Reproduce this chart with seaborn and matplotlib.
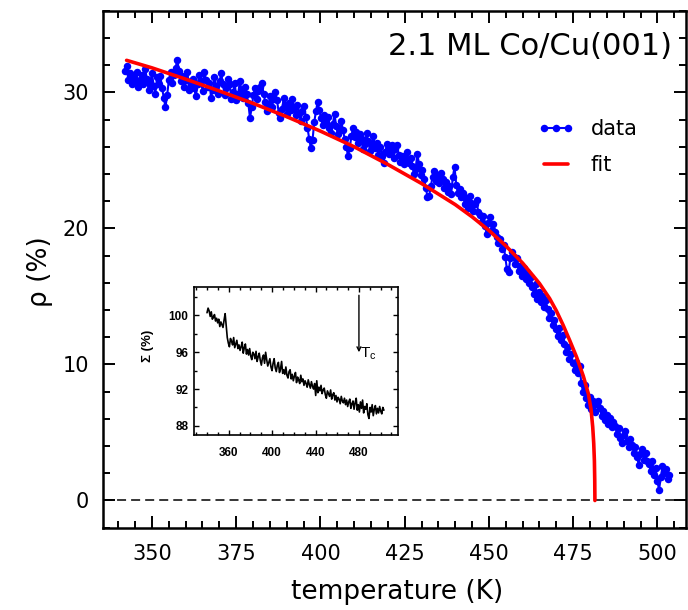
import numpy as np
import pandas as pd
import matplotlib
matplotlib.use("Agg")
import matplotlib.pyplot as plt
import seaborn as sns
from matplotlib.ticker import MultipleLocator

# ---------------- data ----------------
temp_start, temp_end = 342.0, 503.5          # temperature range of the scan (K)
rho_data = [
    31.6, 31.9, 30.9, 31.4, 30.6, 31.2, 30.8, 31.5, 30.4, 30.9,
    31.3, 30.6, 31.7, 31.0, 30.2, 30.7, 31.4, 30.5, 29.9, 31.1,
    30.6, 31.2, 30.3, 29.6, 28.9, 29.8, 30.9, 31.5, 30.7, 31.3,
    31.8, 32.4, 31.6, 30.8, 31.2, 30.4, 30.9, 31.5, 30.2, 30.7,
    31.0, 30.3, 29.7, 30.6, 31.3, 30.8, 30.1, 31.5, 30.9, 30.4,
    30.7, 29.6, 30.2, 31.1, 30.5, 29.9, 30.8, 31.4, 30.6, 29.8,
    30.3, 31.0, 30.6, 29.5, 30.0, 30.7, 29.4, 29.9, 30.8, 30.2,
    29.6, 30.4, 29.9, 29.2, 28.1, 28.9, 29.8, 30.3, 29.5, 30.1,
    30.4, 30.7, 29.9, 29.3, 28.6, 29.1, 29.7, 28.9, 29.5, 30.0,
    29.4, 28.5, 28.1, 28.8, 29.6, 29.1, 28.4, 29.2, 28.7, 29.5,
    28.9, 28.3, 29.1, 28.5, 27.9, 28.6, 29.0, 28.2, 27.4, 26.6,
    25.9, 26.5, 27.8, 28.6, 29.3, 28.7, 28.1, 27.6, 28.3, 27.8,
    28.2, 27.4, 27.0, 27.7, 28.4, 27.5, 26.9, 27.3, 27.9, 27.2,
    26.6, 26.0, 25.3, 25.9, 26.8, 27.4, 26.7, 27.1, 26.3, 26.9,
    26.6, 25.8, 26.2, 27.0, 26.4, 25.7, 26.1, 26.8, 25.9, 26.3,
    25.4, 26.0, 25.3, 24.8, 25.6, 26.2, 25.5, 25.9, 26.1, 25.2,
    25.8, 26.1, 25.4, 24.9, 25.3, 24.7, 25.0, 25.6, 24.8, 25.2,
    24.6, 24.0, 24.4, 25.5, 24.7, 23.9, 24.3, 23.6, 23.0, 22.3,
    22.4, 23.1, 23.8, 24.2, 23.5, 23.9, 23.3, 24.1, 23.6, 23.0,
    23.4, 22.7, 23.1, 22.5, 23.8, 24.5, 23.2, 22.6, 22.9, 22.3,
    22.6, 21.8, 22.2, 21.5, 22.4, 21.9, 21.3, 21.8, 22.1, 21.2,
    21.0, 20.5, 20.9, 20.2, 19.6, 20.4, 20.8, 19.9, 20.3, 19.7,
    19.4, 18.9, 19.2, 18.5, 18.8, 17.9, 17.0, 16.8, 17.8, 18.3,
    17.9, 17.4, 17.8, 16.9, 17.2, 16.5, 17.1, 16.3, 16.8, 16.0,
    16.4, 15.7, 15.2, 15.9, 14.8, 15.3, 14.6, 15.0, 14.2, 14.7,
    14.1, 13.4, 13.8, 12.9, 13.3, 12.6, 12.1, 12.7, 11.8, 12.2,
    11.5, 10.9, 11.3, 10.4, 10.8, 10.1, 9.6, 10.2, 9.4, 9.9,
    8.6, 8.0, 8.5, 7.5, 7.0, 7.6, 6.7, 7.3, 6.5, 7.1,
    7.3, 6.8, 6.2, 6.6, 5.9, 6.3, 5.6, 6.1, 5.4, 5.8,
    5.5, 4.9, 5.3, 4.6, 4.2, 4.8, 5.1, 4.4, 3.9, 4.5,
    4.1, 3.5, 3.9, 3.2, 2.6, 3.4, 3.8, 3.0, 3.5, 2.9,
    2.7, 2.2, 2.9, 1.9, 2.4, 1.4, 0.8, 1.7, 2.5, 2.0,
    2.3, 1.6, 1.9,
]

fit_T = [342.5, 350, 360, 370, 380, 390, 400, 410, 420, 430, 440, 445, 450,
         455, 460, 465, 468, 470, 472, 474, 476, 478, 479.5, 480.3, 480.8,
         481.1, 481.3, 481.4, 481.45]
fit_rho = [32.35, 31.80, 30.97, 30.10, 29.19, 28.21, 27.15, 26.00, 24.70,
           23.30, 21.75, 20.85, 19.85, 18.72, 17.45, 15.95, 14.85, 13.95,
           12.90, 11.75, 10.55, 9.15, 7.85, 6.70, 5.40, 4.20, 2.90, 1.50, 0.0]

inset_T_start, inset_T_end = 340.0, 503.0
sigma_data = [
    100.3, 100.8, 100.5, 99.9, 100.4, 99.6, 99.8, 100.1, 99.4, 99.7,
    99.2, 99.6, 98.8, 99.3, 99.0, 98.7, 99.5, 100.2, 98.9, 97.6,
    97.0, 96.6, 97.5, 97.2, 96.8, 97.6, 96.5, 96.9, 97.3, 96.4,
    96.8, 96.2, 96.6, 97.1, 95.9, 96.5, 96.9, 95.8, 96.3, 95.7,
    96.4, 95.6, 95.2, 96.0, 95.8, 95.3, 96.1, 95.0, 95.5, 95.9,
    95.1, 94.6, 95.4, 95.7, 94.8, 96.0, 95.2, 94.5, 94.9, 95.3,
    94.4, 94.0, 94.8, 95.3, 94.3, 93.9, 94.6, 94.9, 93.8, 94.2,
    95.0, 93.7, 94.1, 93.6, 94.4, 93.5, 93.2, 93.9, 94.1, 93.1,
    93.6, 92.9, 93.4, 93.8, 92.7, 93.3, 93.0, 92.6, 93.5, 92.8,
    93.1, 92.4, 92.9, 92.6, 92.2, 93.0, 92.5, 92.1, 92.8, 92.3,
    92.0, 92.6, 91.3, 92.9, 91.6, 92.2, 91.8, 92.4, 91.5, 91.9,
    92.1, 91.4, 91.0, 91.8, 91.5, 91.2, 91.9, 90.9, 91.4, 91.6,
    90.8, 91.3, 90.6, 91.1, 90.9, 90.4, 91.2, 90.7, 90.5, 91.0,
    90.3, 90.8, 90.1, 90.6, 90.9, 89.9, 90.4, 90.7, 89.8, 90.5,
    91.0, 89.7, 90.3, 89.5, 90.6, 89.9, 90.8, 89.4, 90.1, 89.8,
    90.4, 89.2, 88.8, 90.0, 89.5, 90.3, 89.1, 89.8, 90.2, 89.3,
    89.9, 89.4, 90.1, 89.6, 89.3, 90.0, 89.7,
]

x_ticks = [350, 375, 400, 425, 450, 475, 500]
y_ticks = [0, 10, 20, 30]
inset_x_ticks = [360, 400, 440, 480]
inset_y_ticks = [88, 92, 96, 100]
Tc = 480
title_text = "2.1 ML Co/Cu(001)"

# ---------------- styling ----------------
sns.set_theme(style="ticks")
plt.rcParams["font.family"] = ["DejaVu Sans"]
plt.rcParams["axes.linewidth"] = 1.8
for key in ["text.color", "axes.labelcolor", "xtick.color", "ytick.color",
            "axes.edgecolor"]:
    plt.rcParams[key] = "black"

fig = plt.figure(figsize=(6.88, 6.10), dpi=100)
ax = fig.add_axes([0.1497, 0.1349, 0.848, 0.8476])

T = np.linspace(temp_start, temp_end, len(rho_data))
df = pd.DataFrame({"T": T, "rho": rho_data})
fit_df = pd.DataFrame({"T": fit_T, "rho": fit_rho})

ax.axhline(0, color="black", lw=1.1, ls=(0, (5.9, 3.3)), zorder=1)
sns.lineplot(data=df, x="T", y="rho", ax=ax, color="#0000ff", marker="o",
             markersize=5.4, markeredgewidth=0, linewidth=1.5,
             estimator=None, sort=False, label="data", zorder=2)
sns.lineplot(data=fit_df, x="T", y="rho", ax=ax, color="#ff0000",
             linewidth=2.6, estimator=None, sort=False, label="fit", zorder=3)

ax.set_xlim(335.5, 508.6)
ax.set_ylim(-2, 36)
ax.set_xticks(x_ticks)
ax.set_yticks(y_ticks)
ax.xaxis.set_minor_locator(MultipleLocator(5))
ax.yaxis.set_minor_locator(MultipleLocator(2))
ax.tick_params(which="both", direction="in", top=True, right=True,
               width=1.4, color="black", labelcolor="black", labelsize=15)
ax.tick_params(which="major", length=8.5)
ax.tick_params(which="minor", length=5)
ax.tick_params(axis="x", pad=12)
ax.tick_params(axis="y", pad=10)
for s in ax.spines.values():
    s.set_linewidth(1.8)
    s.set_color("black")

ax.set_xlabel("temperature (K)", fontsize=19, color="black")
ax.set_ylabel("ρ (%)", fontsize=19, color="black")
ax.xaxis.set_label_coords(0.505, -0.10)
ax.yaxis.set_label_coords(-0.108, 0.495)
ax.yaxis.label.set_verticalalignment("center")

ax.text(0.976, 0.93, title_text, transform=ax.transAxes, ha="right",
        va="center", fontsize=22, color="black")

leg = ax.legend(loc="upper left", bbox_to_anchor=(0.745, 0.79), frameon=False,
                fontsize=15, numpoints=3, handlelength=1.75,
                handletextpad=0.8, labelspacing=0.75, borderpad=0,
                borderaxespad=0)
for t in leg.get_texts():
    t.set_color("black")

# ---------------- inset ----------------
axin = fig.add_axes([194 / 688, 1 - 435 / 610, 204 / 688, 148 / 610])
T_in = np.linspace(inset_T_start, inset_T_end, len(sigma_data))
sns.lineplot(x=T_in, y=sigma_data, ax=axin, color="black", linewidth=1.2,
             estimator=None, sort=False)
axin.set_xlim(328, 516)
axin.set_ylim(87, 103.1)
axin.set_xticks(inset_x_ticks)
axin.set_yticks(inset_y_ticks)
axin.xaxis.set_minor_locator(MultipleLocator(10))
axin.yaxis.set_minor_locator(MultipleLocator(2))
axin.tick_params(which="both", direction="in", top=True, right=True,
                 width=1.0, color="black", labelcolor="black")
axin.tick_params(which="major", length=3.5)
axin.tick_params(which="minor", length=2.2)
axin.tick_params(axis="x", pad=9)
axin.tick_params(axis="y", pad=4)
for lab in axin.get_xticklabels() + axin.get_yticklabels():
    lab.set_family(["Liberation Sans", "DejaVu Sans"])
    lab.set_fontweight("bold")
    lab.set_fontsize(8.5)
for s in axin.spines.values():
    s.set_linewidth(1.2)
    s.set_color("black")
axin.set_xlabel("")
axin.set_ylabel("Σ (%)", fontsize=9.5, fontweight="bold", color="black",
                family=["Liberation Sans", "DejaVu Sans"])
axin.yaxis.set_label_coords(-0.225, 0.60)
axin.yaxis.label.set_verticalalignment("center")

axin.annotate("", xy=(Tc, 96.0), xytext=(Tc, 102.2),
              arrowprops=dict(arrowstyle="->", color="black", lw=1.0,
                              shrinkA=0, shrinkB=0, mutation_scale=7))
axin.text(Tc + 0.8, 95.9, "T$_\\mathregular{c}$", ha="left", va="center",
          fontsize=11, color="black", family=["Liberation Sans", "DejaVu Sans"])

fig.savefig("out.png", dpi=100)
